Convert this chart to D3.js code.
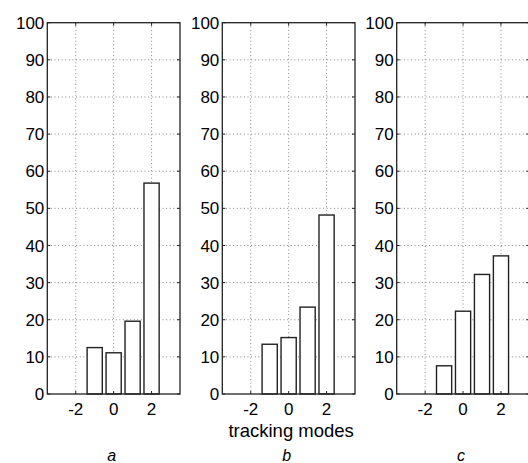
<!DOCTYPE html>
<html>
<head>
<meta charset="utf-8">
<script src="https://cdn.jsdelivr.net/npm/d3@7"></script>
<style>
  body { margin: 0; background: #fff; }
  text { font-family: "Liberation Sans", Arial, Helvetica, sans-serif; fill: #000; }
</style>
</head>
<body>
<div id="chart"></div>
<script>
// tracking mode categories and percentages for each panel
const modes = [-3, -2, -1, 0, 1, 2, 3];
const valuesA = [0, 0, 12.5, 11.1, 19.6, 56.8, 0];
const valuesB = [0, 0, 13.4, 15.2, 23.4, 48.2, 0];
const valuesC = [0, 0, 7.6, 22.3, 32.2, 37.2, 0];
const panelLetters = ["a", "b", "c"];
const xTicks = [-2, 0, 2];
const yTicks = [0, 10, 20, 30, 40, 50, 60, 70, 80, 90, 100];

const width = 528;
const height = 463;

const svg = d3.select("#chart").append("svg")
    .attr("width", width)
    .attr("height", height);

const plotTop = 22.7, plotBottom = 394;
const plotW = 132.7;
const lefts = [47.3, 222.3, 396.7];
const barWidth = 0.8;

const y = d3.scaleLinear().domain([0, 100]).range([plotBottom, plotTop]);

[valuesA, valuesB, valuesC].forEach((vals, i) => {
    const left = lefts[i];
    const x = d3.scaleLinear().domain([-3.5, 3.5]).range([left, left + plotW]);
    const g = svg.append("g");

    // dotted grid
    g.selectAll("line.hgrid")
        .data(yTicks.slice(1, -1))
        .enter().append("line")
        .attr("x1", left).attr("x2", left + plotW)
        .attr("y1", d => y(d)).attr("y2", d => y(d))
        .attr("stroke", "#777").attr("stroke-width", 0.9)
        .attr("stroke-dasharray", "1,2.6");
    g.selectAll("line.vgrid")
        .data(xTicks)
        .enter().append("line")
        .attr("x1", d => x(d)).attr("x2", d => x(d))
        .attr("y1", plotTop).attr("y2", plotBottom)
        .attr("stroke", "#777").attr("stroke-width", 0.9)
        .attr("stroke-dasharray", "1,2.6");

    // bars
    g.selectAll("rect.bar")
        .data(modes.map((m, k) => ({ m, v: vals[k] })).filter(d => d.v > 0))
        .enter().append("rect")
        .attr("x", d => x(d.m - barWidth / 2))
        .attr("width", d => x(d.m + barWidth / 2) - x(d.m - barWidth / 2))
        .attr("y", d => y(d.v))
        .attr("height", d => y(0) - y(d.v))
        .attr("fill", "#fff")
        .attr("stroke", "#222")
        .attr("stroke-width", 1.4);

    // inner tick marks (matlab style)
    const tl = 3;
    xTicks.forEach(t => {
        g.append("line").attr("x1", x(t)).attr("x2", x(t)).attr("y1", plotBottom).attr("y2", plotBottom - tl)
            .attr("stroke", "#222");
        g.append("line").attr("x1", x(t)).attr("x2", x(t)).attr("y1", plotTop).attr("y2", plotTop + tl)
            .attr("stroke", "#222");
    });
    yTicks.forEach(t => {
        g.append("line").attr("x1", left).attr("x2", left + tl).attr("y1", y(t)).attr("y2", y(t))
            .attr("stroke", "#222");
        g.append("line").attr("x1", left + plotW).attr("x2", left + plotW - tl).attr("y1", y(t)).attr("y2", y(t))
            .attr("stroke", "#222");
    });

    // axes box
    g.append("rect")
        .attr("x", left).attr("y", plotTop)
        .attr("width", plotW).attr("height", plotBottom - plotTop)
        .attr("fill", "none")
        .attr("stroke", "#222")
        .attr("stroke-width", 1.3);

    // tick labels
    g.selectAll("text.ylab")
        .data(yTicks)
        .enter().append("text")
        .attr("x", left - 3)
        .attr("y", d => y(d))
        .attr("dy", "0.36em")
        .attr("text-anchor", "end")
        .style("font-size", "17px")
        .text(d => d);
    g.selectAll("text.xlab")
        .data(xTicks)
        .enter().append("text")
        .attr("x", d => x(d))
        .attr("y", 414.5)
        .attr("text-anchor", "middle")
        .style("font-size", "17px")
        .text(d => d);

    g.append("text")
        .attr("x", x(0) - 2)
        .attr("y", 461)
        .attr("text-anchor", "middle")
        .style("font-size", "16px")
        .style("font-style", "italic")
        .text(panelLetters[i]);

    if (i === 1) {
        g.append("text")
            .attr("x", x(0) + 2.5)
            .attr("y", 436.5)
            .attr("text-anchor", "middle")
            .style("font-size", "18.5px")
            .text("tracking modes");
    }
});
</script>
</body>
</html>
